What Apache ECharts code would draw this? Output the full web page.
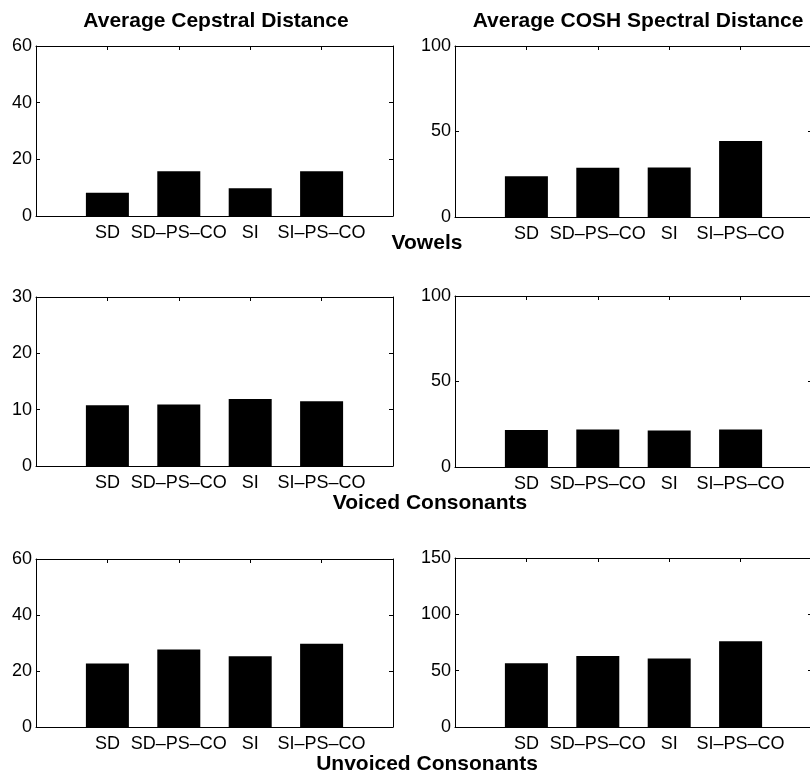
<!DOCTYPE html>
<html>
<head>
<meta charset="utf-8">
<script src="https://cdn.jsdelivr.net/npm/echarts@6/dist/echarts.min.js"></script>
<style>
html,body{margin:0;padding:0;background:#fff;}
#chart{width:810px;height:773px;}
</style>
</head>
<body>
<div id="chart"></div>
<script>
// ---- data ----
const categories = ['SD', 'SD–PS–CO', 'SI', 'SI–PS–CO'];
const cepVowels    = [8.2, 15.8, 9.8, 15.8];
const coshVowels   = [23.9, 28.8, 29.0, 44.5];
const cepVoiced    = [10.8, 10.9, 11.9, 11.5];
const coshVoiced   = [21.6, 22.0, 21.3, 22.0];
const cepUnvoiced  = [22.7, 27.7, 25.3, 29.7];
const coshUnvoiced = [56.5, 63.0, 60.9, 76.1];
const yMaxes     = [60, 100, 30, 100, 60, 150];
const yIntervals = [20, 50, 10, 50, 20, 50];
const colTitles = ['Average Cepstral Distance', 'Average COSH Spectral Distance'];
const rowTitles = ['Vowels', 'Voiced Consonants', 'Unvoiced Consonants'];

const panels = [cepVowels, coshVowels, cepVoiced, coshVoiced, cepUnvoiced, coshUnvoiced];

// ---- layout ----
const FONT = '"Liberation Sans", Arial, Helvetica, sans-serif';
const grids = [
  {left: 36,  top: 46,  width: 357, height: 170},
  {left: 455, top: 46,  width: 357, height: 171},
  {left: 36,  top: 297, width: 357, height: 169},
  {left: 455, top: 296, width: 357, height: 171},
  {left: 36,  top: 559, width: 357, height: 168},
  {left: 455, top: 558, width: 357, height: 169}
].map(g => Object.assign(g, {outerBoundsMode: 'none', containLabel: false}));

const xAxes = [], yAxes = [], series = [];
const lineStyle = {color: '#000', width: 1};
const mkLine = () => ({show: true, onZero: false, lineStyle});
const mkTick = () => ({show: true, inside: true, length: 4, lineStyle});
panels.forEach((vals, i) => {
  xAxes.push({
    type: 'value', gridIndex: i, position: 'bottom', min: 0, max: 5, interval: 1,
    axisLine: mkLine(), axisTick: mkTick(), splitLine: {show: false},
    axisLabel: {
      color: '#000', fontSize: 18, fontFamily: FONT, margin: 8,
      formatter: v => (v >= 1 && v <= categories.length) ? categories[v - 1] : ''
    }
  });
  xAxes.push({
    type: 'value', gridIndex: i, position: 'top', min: 0, max: 5, interval: 1,
    axisLine: mkLine(), axisTick: mkTick(), splitLine: {show: false},
    axisLabel: {show: false}
  });
  yAxes.push({
    type: 'value', gridIndex: i, position: 'left', min: 0, max: yMaxes[i], interval: yIntervals[i],
    axisLine: mkLine(), axisTick: mkTick(), splitLine: {show: false},
    axisLabel: {color: '#000', fontSize: 18, fontFamily: FONT, margin: 4}
  });
  yAxes.push({
    type: 'value', gridIndex: i, position: 'right', min: 0, max: yMaxes[i], interval: yIntervals[i],
    axisLine: mkLine(), axisTick: mkTick(), splitLine: {show: false},
    axisLabel: {show: false}
  });
  series.push({
    type: 'bar', xAxisIndex: 2 * i, yAxisIndex: 2 * i,
    data: vals.map((v, k) => [k + 1, v]),
    barWidth: 43,
    itemStyle: {color: '#000'},
    silent: true
  });
});

const titleStyle = {color: '#000', fontSize: 21, fontWeight: 'bold', fontFamily: FONT};
const titles = [
  {text: colTitles[0], left: 216, top: 11, textAlign: 'center', padding: 0, textStyle: titleStyle},
  {text: colTitles[1], left: 638, top: 11, textAlign: 'center', padding: 0, textStyle: titleStyle},
  {text: rowTitles[0], left: 427, top: 233, textAlign: 'center', padding: 0, textStyle: titleStyle},
  {text: rowTitles[1], left: 430, top: 493, textAlign: 'center', padding: 0, textStyle: titleStyle},
  {text: rowTitles[2], left: 427, top: 754, textAlign: 'center', padding: 0, textStyle: titleStyle}
];

const chart = echarts.init(document.getElementById('chart'), null, {renderer: 'canvas'});
chart.setOption({
  backgroundColor: '#fff',
  animation: false,
  title: titles,
  grid: grids,
  xAxis: xAxes,
  yAxis: yAxes,
  series: series
});
</script>
</body>
</html>
